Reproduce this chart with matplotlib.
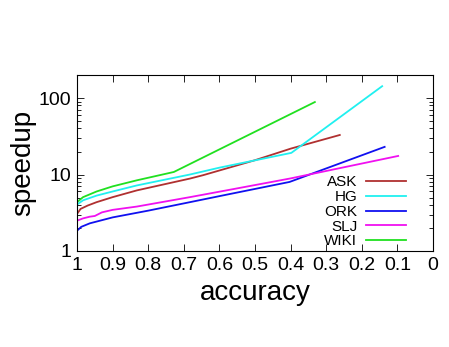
import matplotlib.pyplot as plt
from matplotlib.ticker import FixedLocator, LogLocator, NullFormatter

plt.rcParams['font.family'] = ['Liberation Sans', 'DejaVu Sans']

# accuracy (x) and speedup (y)
ask_x = [1.0, 0.99, 0.97, 0.945, 0.9, 0.832, 0.683, 0.646, 0.5, 0.4, 0.262]
ask_y = [3.05, 3.55, 3.93, 4.35, 5.06, 6.2, 8.85, 9.8, 15.4, 21.8, 32.9]

hg_x = [1.0, 0.983, 0.945, 0.9, 0.832, 0.683, 0.6, 0.398, 0.143]
hg_y = [4.05, 4.6, 5.3, 6.0, 7.2, 10.0, 12.3, 19.2, 143]

ork_x = [1.0, 0.988, 0.964, 0.9, 0.8, 0.683, 0.58, 0.403, 0.136]
ork_y = [1.84, 2.07, 2.3, 2.75, 3.37, 4.35, 5.45, 8.0, 23.0]

slj_x = [1.0, 0.983, 0.964, 0.95, 0.93, 0.9, 0.832, 0.683, 0.56, 0.4, 0.098]
slj_y = [2.49, 2.67, 2.81, 2.87, 3.2, 3.45, 3.81, 5.06, 6.46, 8.9, 17.5]

wiki_x = [1.0, 0.983, 0.945, 0.9, 0.832, 0.728, 0.332]
wiki_y = [4.35, 5.06, 6.0, 7.0, 8.4, 10.8, 88.7]

names = ['ASK', 'HG', 'ORK', 'SLJ', 'WIKI']
colors = ['#b03030', '#20f0f0', '#1010f0', '#f010f0', '#20e020']
xs = [ask_x, hg_x, ork_x, slj_x, wiki_x]
ys = [ask_y, hg_y, ork_y, slj_y, wiki_y]

fig = plt.figure(figsize=(4.49, 3.47), dpi=100)
ax = fig.add_axes([0.1715, 0.2767, 0.793, 0.507])

for x, y, c, n in zip(xs, ys, colors, names):
    ax.plot(x, y, color=c, lw=1.3, label=n)

ax.set_yscale('log')
ax.set_xlim(1, 0)
ax.set_ylim(1, 200)
ax.xaxis.set_major_locator(FixedLocator([1, 0.9, 0.8, 0.7, 0.6, 0.5, 0.4, 0.3, 0.2, 0.1, 0]))
ax.set_xticklabels(['1', '0.9', '0.8', '0.7', '0.6', '0.5', '0.4', '0.3', '0.2', '0.1', '0'])
ax.yaxis.set_major_locator(FixedLocator([1, 10, 100]))
ax.set_yticklabels(['1', '10', '100'])
ax.yaxis.set_minor_locator(LogLocator(base=10, subs=range(2, 10)))
ax.yaxis.set_minor_formatter(NullFormatter())

ax.tick_params(which='both', direction='in', top=True, right=True, labelsize=14, width=0.6)
ax.tick_params(which='major', length=5, pad=4)
ax.tick_params(which='minor', length=3)
for s in ax.spines.values():
    s.set_linewidth(0.8)

ax.set_xlabel('accuracy', fontsize=20, labelpad=5)
ax.set_ylabel('speedup', fontsize=20, labelpad=2)

ax.legend(loc='lower right', bbox_to_anchor=(0.963, -0.064), frameon=False,
          markerfirst=False, fontsize=11, handlelength=2.6, labelspacing=0.05,
          handletextpad=0.6)

fig.savefig('out.png', dpi=100)
